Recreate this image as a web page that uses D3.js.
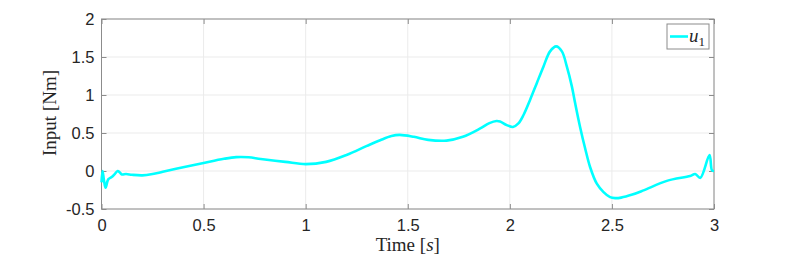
<!DOCTYPE html>
<html>
<head>
<meta charset="utf-8">
<script src="https://cdn.jsdelivr.net/npm/d3@7"></script>
<style>
  body { margin: 0; background: #fff; }
  svg text { fill: #262626; }
</style>
</head>
<body>
<div id="chart"></div>
<script>
// temps [s]
var times = [0, 0.005, 0.012, 0.02, 0.033, 0.05, 0.065, 0.079, 0.09, 0.1, 0.12, 0.15, 0.2, 0.25, 0.3, 0.4,
  0.5, 0.6, 0.66, 0.72, 0.78, 0.9, 1.0, 1.1, 1.2, 1.3, 1.365, 1.42, 1.46, 1.53, 1.6, 1.69, 1.77,
  1.855, 1.9, 1.935, 1.952, 1.985, 2.015, 2.042, 2.067, 2.099, 2.132, 2.165, 2.197, 2.227, 2.255, 2.279,
  2.304, 2.32, 2.344, 2.369, 2.393, 2.426, 2.459, 2.491, 2.516, 2.545, 2.6, 2.655,
  2.769, 2.883, 2.908, 2.933, 2.978, 2.99, 3.0];
// couple u1 [Nm]
var u1 = [-0.15, 0.0, -0.12, -0.22, -0.11, -0.08, -0.04, 0.0, -0.02, -0.045, -0.04, -0.05, -0.057, -0.04, -0.01, 0.05,
  0.106, 0.16, 0.182, 0.18, 0.158, 0.12, 0.09, 0.12, 0.21, 0.33, 0.405, 0.46, 0.475, 0.45, 0.41, 0.40, 0.45,
  0.56, 0.63, 0.657, 0.65, 0.604, 0.58, 0.627, 0.737, 0.935, 1.156, 1.376, 1.574, 1.64, 1.574, 1.376,
  1.11, 0.89, 0.58, 0.296, 0.053, -0.167, -0.278, -0.344, -0.357, -0.35, -0.31, -0.255,
  -0.13, -0.066, -0.04, -0.09, 0.21, 0.01, 0.0];

var xTicks = [0, 0.5, 1, 1.5, 2, 2.5, 3];
var yTicks = [-0.5, 0, 0.5, 1, 1.5, 2];

var margin = {top: 19, right: 75, bottom: 50, left: 101.5},
    width = 789 - margin.left - margin.right,
    height = 259 - margin.top - margin.bottom;

var svg = d3.select("#chart").append("svg")
    .attr("width", 789)
    .attr("height", 259)
    .append("g")
    .attr("transform", "translate(" + margin.left + "," + margin.top + ")");

var x = d3.scaleLinear().domain([0, 3]).range([0, width]);
var y = d3.scaleLinear().domain([-0.5, 2]).range([height, 0]);

var sansFont = "'Liberation Sans', Arial, Helvetica, sans-serif";
var serifFont = "'Liberation Serif', 'Times New Roman', serif";

// grille
svg.append("g").selectAll("line").data(xTicks).enter().append("line")
    .attr("x1", d => x(d)).attr("x2", d => x(d))
    .attr("y1", 0).attr("y2", height)
    .attr("stroke", "#ebebeb").attr("stroke-width", 1);
svg.append("g").selectAll("line").data(yTicks).enter().append("line")
    .attr("x1", 0).attr("x2", width)
    .attr("y1", d => y(d)).attr("y2", d => y(d))
    .attr("stroke", "#ebebeb").attr("stroke-width", 1);

// axes
var axisStyle = function (g) {
    g.attr("font-family", sansFont);
    g.select(".domain").remove();
    g.selectAll(".tick line").attr("stroke", "#8c8c8c");
    g.selectAll(".tick text").style("font-family", sansFont)
        .attr("font-size", "16.5px").attr("fill", "#262626");
};
var fmt = d => String(d);
svg.append("g")
    .attr("transform", "translate(0," + height + ")")
    .call(d3.axisBottom(x).tickValues(xTicks).tickSize(-5).tickPadding(10).tickFormat(fmt))
    .call(axisStyle);
svg.append("g")
    .call(d3.axisLeft(y).tickValues(yTicks).tickSize(-5).tickPadding(7).tickFormat(fmt))
    .call(axisStyle);
// ticks à droite et en haut
svg.append("g")
    .attr("transform", "translate(" + width + ",0)")
    .call(d3.axisRight(y).tickValues(yTicks).tickSize(-5).tickFormat(""))
    .call(axisStyle);
svg.append("g")
    .call(d3.axisTop(x).tickValues(xTicks).tickSize(-5).tickFormat(""))
    .call(axisStyle);

svg.append("rect")
    .attr("x", 0).attr("y", 0).attr("width", width).attr("height", height)
    .attr("fill", "none").attr("stroke", "#8c8c8c").attr("stroke-width", 1);

// courbe
var data = times.map((t, i) => ({t: t, u: u1[i]}));
var line = d3.line().x(d => x(d.t)).y(d => y(d.u)).curve(d3.curveCatmullRom.alpha(0.5));
svg.append("path")
    .datum(data)
    .attr("d", line)
    .attr("fill", "none")
    .attr("stroke", "#00ffff")
    .attr("stroke-width", 2.6)
    .attr("stroke-linejoin", "round");

// labels
svg.append("text")
    .attr("x", width / 2).attr("y", height + 42)
    .attr("text-anchor", "middle")
    .style("font-family", serifFont)
    .attr("font-size", "19px")
    .html("Time [<tspan font-style='italic'>s</tspan>]");
svg.append("text")
    .attr("transform", "translate(-46," + (height / 2 - 1) + ") rotate(-90)")
    .attr("text-anchor", "middle")
    .style("font-family", serifFont)
    .attr("font-size", "19px")
    .text("Input [Nm]");

// légende
var legend = svg.append("g").attr("transform", "translate(" + (667 - margin.left) + "," + (24 - margin.top) + ")");
legend.append("rect").attr("width", 42).attr("height", 25)
    .attr("fill", "#fff").attr("stroke", "#8c8c8c").attr("stroke-width", 1);
legend.append("line").attr("x1", 3).attr("x2", 21).attr("y1", 12.5).attr("y2", 12.5)
    .attr("stroke", "#00ffff").attr("stroke-width", 2.6);
legend.append("text").attr("x", 22).attr("y", 18)
    .style("font-family", serifFont)
    .attr("font-size", "19px").attr("font-style", "italic")
    .html("u<tspan font-style='normal' font-size='13px' dy='4'>1</tspan>");
</script>
</body>
</html>
